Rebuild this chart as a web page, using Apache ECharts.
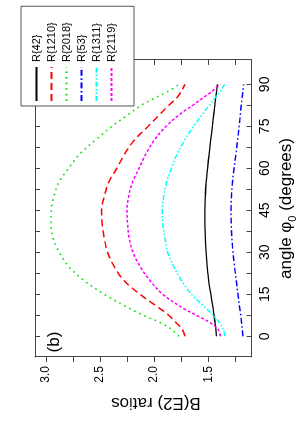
<!DOCTYPE html>
<html>
<head>
<meta charset="utf-8">
<script src="https://cdn.jsdelivr.net/npm/echarts@6/dist/echarts.min.js"></script>
<style>
html,body{margin:0;padding:0;background:#fff;overflow:hidden;width:303px;height:436px;}
#chart{position:absolute;left:0;top:0;width:436px;height:303px;transform-origin:0 0;transform:translate(0,436px) rotate(-90deg);}
</style>
</head>
<body>
<div id="chart"></div>
<script>
const angles = [0, 2.5, 5, 7.5, 10, 15, 20, 25, 30, 35, 40, 45, 50, 55, 60, 65, 70, 75, 80, 82.5, 85, 87.5, 90];
const r42   = [1.425,1.430,1.438,1.447,1.456,1.477,1.497,1.510,1.520,1.527,1.531,1.532,1.527,1.520,1.507,1.493,1.478,1.462,1.447,1.440,1.432,1.423,1.415];
const r1210 = [1.715,1.740,1.800,1.865,1.950,2.130,2.280,2.370,2.430,2.460,2.480,2.485,2.460,2.420,2.345,2.275,2.185,2.055,1.930,1.865,1.795,1.750,1.715];
const r2018 = [1.770,1.840,1.950,2.100,2.230,2.460,2.650,2.790,2.875,2.933,2.952,2.950,2.925,2.880,2.790,2.690,2.545,2.390,2.210,2.120,2.000,1.870,1.770];
const r53   = [1.180,1.186,1.193,1.200,1.210,1.226,1.242,1.258,1.272,1.282,1.288,1.290,1.286,1.277,1.262,1.245,1.230,1.215,1.202,1.196,1.188,1.181,1.174];
const r1311 = [1.349,1.360,1.400,1.455,1.520,1.655,1.750,1.820,1.875,1.900,1.920,1.925,1.910,1.885,1.840,1.790,1.720,1.635,1.540,1.490,1.440,1.390,1.349];
const r2119 = [1.388,1.410,1.490,1.610,1.730,1.920,2.040,2.130,2.195,2.230,2.245,2.250,2.235,2.200,2.140,2.078,2.000,1.890,1.740,1.645,1.555,1.465,1.390];

const seriesNames = ['R{42}', 'R{1210}', 'R{2018}', 'R{53}', 'R{1311}', 'R{2119}'];
const seriesValues = [r42, r1210, r2018, r53, r1311, r2119];
const angleTicks = [0, 7.5, 15, 22.5, 30, 37.5, 45, 52.5, 60, 67.5, 75, 82.5, 90];
const angleLabels = [0, 15, 30, 45, 60, 75, 90];
const ratioTicks = [1.25, 1.5, 1.75, 2.0, 2.25, 2.5, 2.75, 3.0];
const ratioLabels = [1.5, 2.0, 2.5, 3.0];

const colors = ['#000000', '#ff0000', '#00e000', '#0000ff', '#00ffff', '#ff00ff'];
const dashes = ['solid', [7, 4], [1.6, 4], [6, 2.5, 1.6, 2.5], [5, 2, 1.6, 2, 1.6, 2], [3, 2]];
const widths = [1.3, 1.5, 1.6, 1.4, 1.5, 1.5];

const FONT = 'Liberation Sans, Arial, Helvetica, sans-serif';
const frameColor = '#444';

const chart = echarts.init(document.getElementById('chart'), null, {renderer: 'canvas'});

const series = seriesNames.map((n, i) => ({
  name: n,
  type: 'line',
  xAxisIndex: 0,
  yAxisIndex: 0,
  symbol: 'none',
  smooth: 0.35,
  data: angles.map((a, j) => [a, seriesValues[i][j]]),
  lineStyle: {color: colors[i], width: widths[i], type: dashes[i]},
  itemStyle: {color: colors[i]},
  emphasis: {disabled: true}
}));

const xBase = {
  type: 'value', min: -7.4, max: 98.7,
  splitLine: {show: false},
  axisLine: {show: true, onZero: false, lineStyle: {color: frameColor, width: 1}},
};
const yBase = {
  type: 'value', min: 1.1, max: 3.1,
  splitLine: {show: false},
  axisLine: {show: true, onZero: false, lineStyle: {color: frameColor, width: 1}},
};

chart.setOption({
  animation: false,
  backgroundColor: '#fff',
  grid: {left: 79, right: 60, top: 35, bottom: 50, show: false},
  xAxis: [
    Object.assign({}, xBase, {
      position: 'bottom',
      axisTick: {show: true, inside: true, length: 5, customValues: angleTicks, lineStyle: {color: frameColor}},
      axisLabel: {show: true, customValues: angleLabels, margin: 7, color: '#000', fontSize: 14, fontFamily: FONT,
        formatter: v => String(v)},
      name: '{a|angle }{p|φ}{s|0}{a| (degrees)}',
      nameLocation: 'middle',
      nameGap: 22,
      nameTextStyle: {
        fontFamily: FONT, color: '#000',
        rich: {
          a: {fontSize: 17, fontFamily: FONT, color: '#000', lineHeight: 24},
          p: {fontSize: 17, fontFamily: FONT, color: '#000', lineHeight: 24},
          s: {fontSize: 11, fontFamily: FONT, color: '#000', lineHeight: 11, verticalAlign: 'bottom'}
        }
      }
    }),
    Object.assign({}, xBase, {
      position: 'top',
      axisTick: {show: true, inside: true, length: 5, customValues: angleTicks, lineStyle: {color: frameColor}},
      axisLabel: {show: false}
    })
  ],
  yAxis: [
    Object.assign({}, yBase, {
      position: 'left',
      axisTick: {show: true, inside: false, length: 5, customValues: ratioTicks, lineStyle: {color: frameColor}},
      axisLabel: {show: true, customValues: ratioLabels, margin: 9, color: '#000', fontSize: 12, fontFamily: FONT,
        formatter: v => v.toFixed(1)}
    }),
    Object.assign({}, yBase, {
      position: 'right',
      axisTick: {show: true, inside: true, length: 5, customValues: ratioTicks, lineStyle: {color: frameColor}},
      axisLabel: {show: false}
    })
  ],
  legend: {
    show: true,
    orient: 'vertical',
    left: 330, top: 21,
    data: seriesNames,
    itemWidth: 34, itemHeight: 12, itemGap: 4,
    padding: [10, 16, 17, 4],
    backgroundColor: '#fff',
    borderColor: '#555', borderWidth: 1,
    itemStyle: {opacity: 0},
    textStyle: {fontSize: 11, fontFamily: FONT, color: '#000'},
    selectedMode: false
  },
  graphic: [
    {type: 'text', x: 33.5, y: 156, rotation: Math.PI / 2,
      style: {text: 'B(E2) ratios', fontSize: 17, fontFamily: FONT, fill: '#000', align: 'center', verticalAlign: 'middle'}},
    {type: 'text', x: 94, y: 54,
      style: {text: '(b)', fontSize: 17, fontFamily: FONT, fill: '#000', align: 'center', verticalAlign: 'middle'}}
  ],
  series: series
});
</script>
</body>
</html>
